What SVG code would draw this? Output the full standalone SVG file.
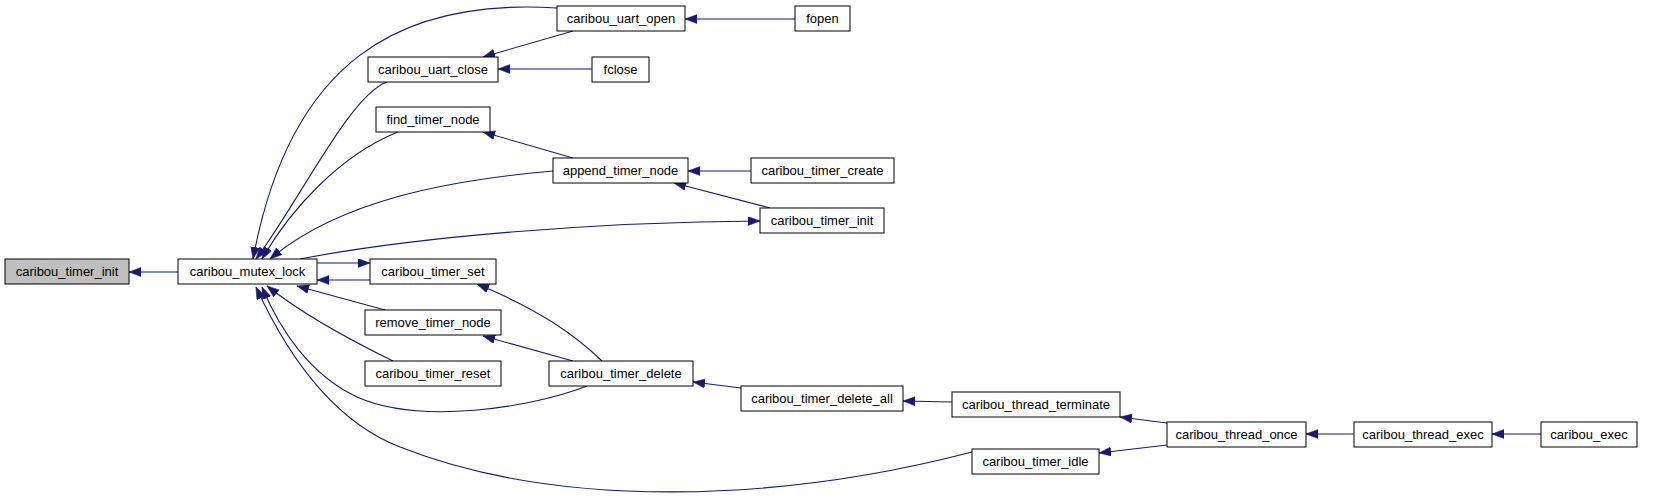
<svg xmlns="http://www.w3.org/2000/svg" width="1656" height="501" viewBox="0 0 1656 501">
<style>
.n rect{fill:#ffffff;stroke:#000000;stroke-width:1}
.n.g rect{fill:#bfbfbf;stroke:#000000}
.n text{font-family:"Liberation Sans",Arial,sans-serif;font-size:13px;fill:#000000;text-anchor:middle}
#edges path{fill:none;stroke:#191970;stroke-width:1.1;marker-end:url(#ah)}
</style>
<defs>
<marker id="ah" markerUnits="userSpaceOnUse" markerWidth="13" markerHeight="10" refX="12" refY="4.5" orient="auto">
<path d="M0,0 L12,4.5 L0,9 z" fill="#191970" stroke="#191970" stroke-width="0.5"/>
</marker>
</defs>
<rect width="1656" height="501" fill="#ffffff"/>
<g id="edges">
<path d="M178,272 L129,272"/>
<path d="M557,8 C400,-2 290,60 253,259"/>
<path d="M387,82 C350,95 300,200 256,259"/>
<path d="M398,132 C340,155 290,210 262,259"/>
<path d="M553,171 C450,180 340,200 270,259"/>
<path d="M300,259 C420,236 600,222 760,221"/>
<path d="M317,263 L370,263"/>
<path d="M370,280 L317,280"/>
<path d="M385,310 L297,286"/>
<path d="M393,361 C350,340 300,312 267,286"/>
<path d="M587,386 C530,408 420,425 357,397 C310,375 280,330 262,287"/>
<path d="M972,452 C780,502 560,510 400,447 C330,420 285,350 256,287"/>
<path d="M795,19 L685,19"/>
<path d="M592,69 L498,69"/>
<path d="M573,31 L483,57"/>
<path d="M573,158 L483,132"/>
<path d="M751,171 L688,171"/>
<path d="M770,208 L674,183"/>
<path d="M602,361 C575,335 540,310 477,284"/>
<path d="M573,361 L483,336"/>
<path d="M741,388 L693,382"/>
<path d="M952,402 L903,401"/>
<path d="M1167,423 L1120,417"/>
<path d="M1167,445 L1099,453"/>
<path d="M1354,434 L1306,434"/>
<path d="M1541,434 L1492,434"/>
</g>
<g id="node_timer_init" class="n g"><rect x="5" y="259" width="124" height="25"/><text x="67" y="276">caribou_timer_init</text></g>
<g id="node_mutex_lock" class="n"><rect x="178" y="259" width="139" height="25"/><text x="247.5" y="276">caribou_mutex_lock</text></g>
<g id="node_uart_open" class="n"><rect x="557" y="6" width="128" height="25"/><text x="621" y="23">caribou_uart_open</text></g>
<g id="node_fopen" class="n"><rect x="795" y="6" width="55" height="25"/><text x="822.5" y="23">fopen</text></g>
<g id="node_uart_close" class="n"><rect x="368" y="57" width="130" height="25"/><text x="433" y="74">caribou_uart_close</text></g>
<g id="node_fclose" class="n"><rect x="592" y="57" width="57" height="25"/><text x="620.5" y="74">fclose</text></g>
<g id="node_find_timer_node" class="n"><rect x="376" y="107" width="114" height="25"/><text x="433" y="124">find_timer_node</text></g>
<g id="node_append_timer_node" class="n"><rect x="553" y="158" width="135" height="25"/><text x="620.5" y="175">append_timer_node</text></g>
<g id="node_timer_create" class="n"><rect x="751" y="158" width="143" height="25"/><text x="822.5" y="175">caribou_timer_create</text></g>
<g id="node_timer_init2" class="n"><rect x="760" y="208" width="124" height="25"/><text x="822" y="225">caribou_timer_init</text></g>
<g id="node_timer_set" class="n"><rect x="370" y="259" width="126" height="25"/><text x="433" y="276">caribou_timer_set</text></g>
<g id="node_remove_timer_node" class="n"><rect x="365" y="310" width="136" height="25"/><text x="433" y="327">remove_timer_node</text></g>
<g id="node_timer_reset" class="n"><rect x="365" y="361" width="136" height="25"/><text x="433" y="378">caribou_timer_reset</text></g>
<g id="node_timer_delete" class="n"><rect x="549" y="361" width="144" height="25"/><text x="621" y="378">caribou_timer_delete</text></g>
<g id="node_timer_delete_all" class="n"><rect x="741" y="386" width="162" height="25"/><text x="822" y="403">caribou_timer_delete_all</text></g>
<g id="node_thread_terminate" class="n"><rect x="952" y="392" width="168" height="25"/><text x="1036" y="409">caribou_thread_terminate</text></g>
<g id="node_timer_idle" class="n"><rect x="972" y="449" width="127" height="25"/><text x="1035.5" y="466">caribou_timer_idle</text></g>
<g id="node_thread_once" class="n"><rect x="1167" y="422" width="139" height="25"/><text x="1236.5" y="439">caribou_thread_once</text></g>
<g id="node_thread_exec" class="n"><rect x="1354" y="422" width="138" height="25"/><text x="1423" y="439">caribou_thread_exec</text></g>
<g id="node_exec" class="n"><rect x="1541" y="422" width="96" height="25"/><text x="1589" y="439">caribou_exec</text></g>
</svg>
